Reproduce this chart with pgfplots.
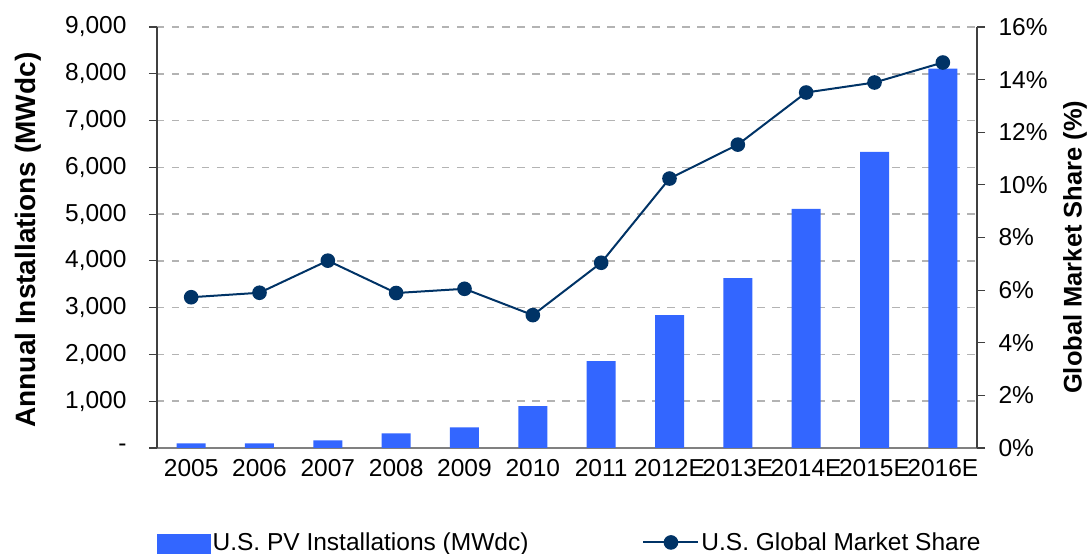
\documentclass[border=0pt]{standalone}
\usepackage{fontspec}
\setmainfont{Liberation Sans}
\usepackage{pgfplots}
\usepackage{pgfplotstable}
\pgfplotsset{compat=1.18}
\definecolor{barblue}{HTML}{3366FF}
\definecolor{linenavy}{HTML}{003366}
\definecolor{gridgray}{HTML}{B3B3B3}
\definecolor{axgray}{HTML}{404040}
\definecolor{xaxgray}{HTML}{808080}

\pgfplotstableread{
x val
0 100
1 100
2 165
3 315
4 443
5 893
6 1857
7 2842
8 3634
9 5110
10 6332
11 8109
}\bars

\pgfplotstableread{
x share
0 5.73
1 5.90
2 7.12
3 5.89
4 6.05
5 5.05
6 7.04
7 10.24
8 11.53
9 13.51
10 13.89
11 14.65
}\share

\begin{document}
\begin{tikzpicture}[font=\fontsize{24.5}{28}\selectfont]
\begin{axis}[
  at={(0,0)}, anchor=south west,
  scale only axis, width=820pt, height=421pt,
  xmin=-0.5, xmax=11.5, ymin=0, ymax=9000,
  axis y line*=left, axis x line*=bottom,
  y axis line style={draw=axgray, line width=1.2pt},
  x axis line style={draw=xaxgray, line width=1.5pt},
  xtick={0,...,11},
  xticklabels={2005,2006,2007,2008,2009,2010,2011,2012E,2013E,2014E,2015E,2016E},
  xtick style={draw=none},
  ytick={0,1000,...,9000},
  yticklabels={{-},{1,000},{2,000},{3,000},{4,000},{5,000},{6,000},{7,000},{8,000},{9,000}},
  ytick style={draw=axgray, line width=1.2pt},
  tick align=outside, major tick length=8pt,
  y tick label style={xshift=-19pt},
  ymajorgrids,
  major grid style={dash pattern=on 7.5pt off 7.5pt, draw=gridgray, line width=1.5pt},
  ylabel={\fontsize{28}{32}\selectfont\bfseries Annual Installations (MWdc)},
  ylabel style={at={(axis description cs:-0.1573,0.494)}, anchor=center},
  ybar, bar width=29pt,
  clip=false,
]
\addplot[fill=barblue, draw=none] table[x=x, y=val] {\bars};
\end{axis}
\begin{axis}[
  at={(0,0)}, anchor=south west,
  scale only axis, width=820pt, height=421pt,
  xmin=-0.5, xmax=11.5, ymin=0, ymax=16,
  axis y line*=right, axis x line=none,
  y axis line style={draw=axgray, line width=1.2pt},
  ytick={0,2,...,16},
  yticklabels={0\%,2\%,4\%,6\%,8\%,10\%,12\%,14\%,16\%},
  ytick style={draw=axgray, line width=1.2pt},
  tick align=outside, major tick length=8pt,
  y tick label style={xshift=10pt},
  ylabel={\fontsize{25.5}{30}\selectfont\bfseries Global Market Share (\%)},
  ylabel style={at={(axis description cs:1.1195,0.477)}, anchor=center},
  clip=false,
  legend style={at={(axis description cs:0,-0.225)}, anchor=west, draw=none, fill=none,
    inner xsep=0pt, inner ysep=0pt,
    /tikz/every even column/.append style={column sep=112pt}},
  legend columns=2,
  legend cell align=left,
]
\addlegendimage{legend image code/.code={\fill[barblue] (0pt,-12pt) rectangle (53pt,8pt);}}
\addlegendentry{U.S. PV Installations (MWdc)}
\addplot[linenavy, line width=2pt, mark=*, mark size=6.3pt, mark options={fill=linenavy, draw=linenavy},
  legend image code/.code={\draw[linenavy, line width=2pt] (0pt,0pt) -- (55pt,0pt); \fill[linenavy] (27.5pt,0pt) circle (6.3pt);}]
  table[x=x, y=share] {\share};
\addlegendentry{U.S. Global Market Share}
\end{axis}
\pgfresetboundingbox
\path (-157pt,-106pt) rectangle (931pt,448pt);
\end{tikzpicture}
\end{document}
